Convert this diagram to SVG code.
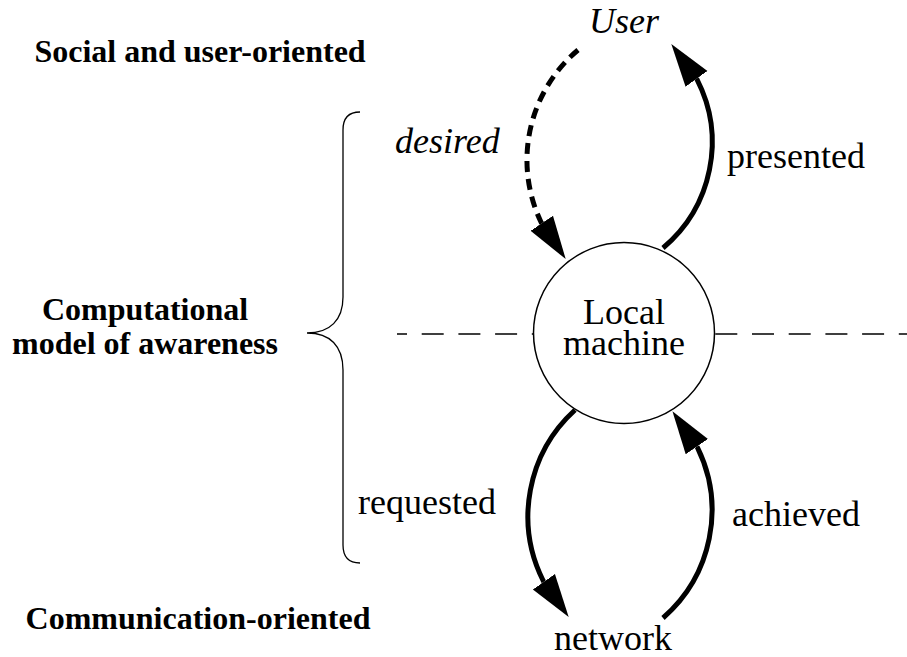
<svg xmlns="http://www.w3.org/2000/svg" width="907" height="657" viewBox="0 0 907 657">
<style>
.lbl{font-family:"Liberation Serif","Times New Roman",serif;font-size:36px;fill:#000}
.it{font-style:italic}
.bold{font-family:"Liberation Serif","Times New Roman",serif;font-size:32px;font-weight:bold;fill:#000}
.arc{fill:none;stroke:#000;stroke-width:5;marker-end:url(#ah)}
.dash{stroke-dasharray:11 7}
</style>
<defs>
<marker id="ah" markerUnits="userSpaceOnUse" viewBox="0 -15 45 30" markerWidth="45" markerHeight="30" refX="0" refY="0" orient="auto">
<path d="M0,-13.5 L43,0 L0,13.5 z" fill="#000" stroke="none"/>
</marker>
</defs>
<rect width="907" height="657" fill="#fff"/>
<g id="categories">
<text class="bold" x="200" y="62" text-anchor="middle">Social and user-oriented</text>
<text class="bold" x="145" y="320" text-anchor="middle">Computational</text>
<text class="bold" x="145" y="354" text-anchor="middle">model of awareness</text>
<text class="bold" x="198" y="629" text-anchor="middle">Communication-oriented</text>
</g>
<g id="brace">
<path d="M360,112 Q343,112 343,130 L343,297 C343,320 330,333 307,333 C330,333 343,346 343,370 L343,545 Q343,563 360,563" fill="none" stroke="#000" stroke-width="1.3"/>
</g>
<g id="divider">
<line x1="397" y1="334" x2="907" y2="334" stroke="#000" stroke-width="1.3" stroke-dasharray="22 14.7" stroke-dashoffset="12"/>
</g>
<g id="connectors">
<path class="arc dash" d="M578,50 A144.1,144.1 0 0 0 541.2,222.5 l0.557,0.831"/>
<path class="arc" d="M663,248 A138,138 0 0 0 697.1,79.6 l-0.586,-0.81"/>
<path class="arc" d="M575,410 A143.8,143.8 0 0 0 543.3,581 l0.577,0.817"/>
<path class="arc" d="M663,618 A142.7,142.7 0 0 0 697.4,447.4 l-0.567,-0.823"/>
</g>
<g id="local-machine">
<circle cx="624" cy="333" r="90.5" fill="#fff" stroke="#000" stroke-width="1.5"/>
<text class="lbl" x="624" y="324" text-anchor="middle">Local</text>
<text class="lbl" x="624" y="355" text-anchor="middle">machine</text>
</g>
<g id="user"><text class="lbl it" x="624" y="33" text-anchor="middle">User</text></g>
<g id="network"><text class="lbl" x="613" y="650" text-anchor="middle">network</text></g>
<g id="labels">
<text class="lbl it" x="395" y="153">desired</text>
<text class="lbl" x="727" y="168">presented</text>
<text class="lbl" x="358" y="514">requested</text>
<text class="lbl" x="732" y="526">achieved</text>
</g>
</svg>
